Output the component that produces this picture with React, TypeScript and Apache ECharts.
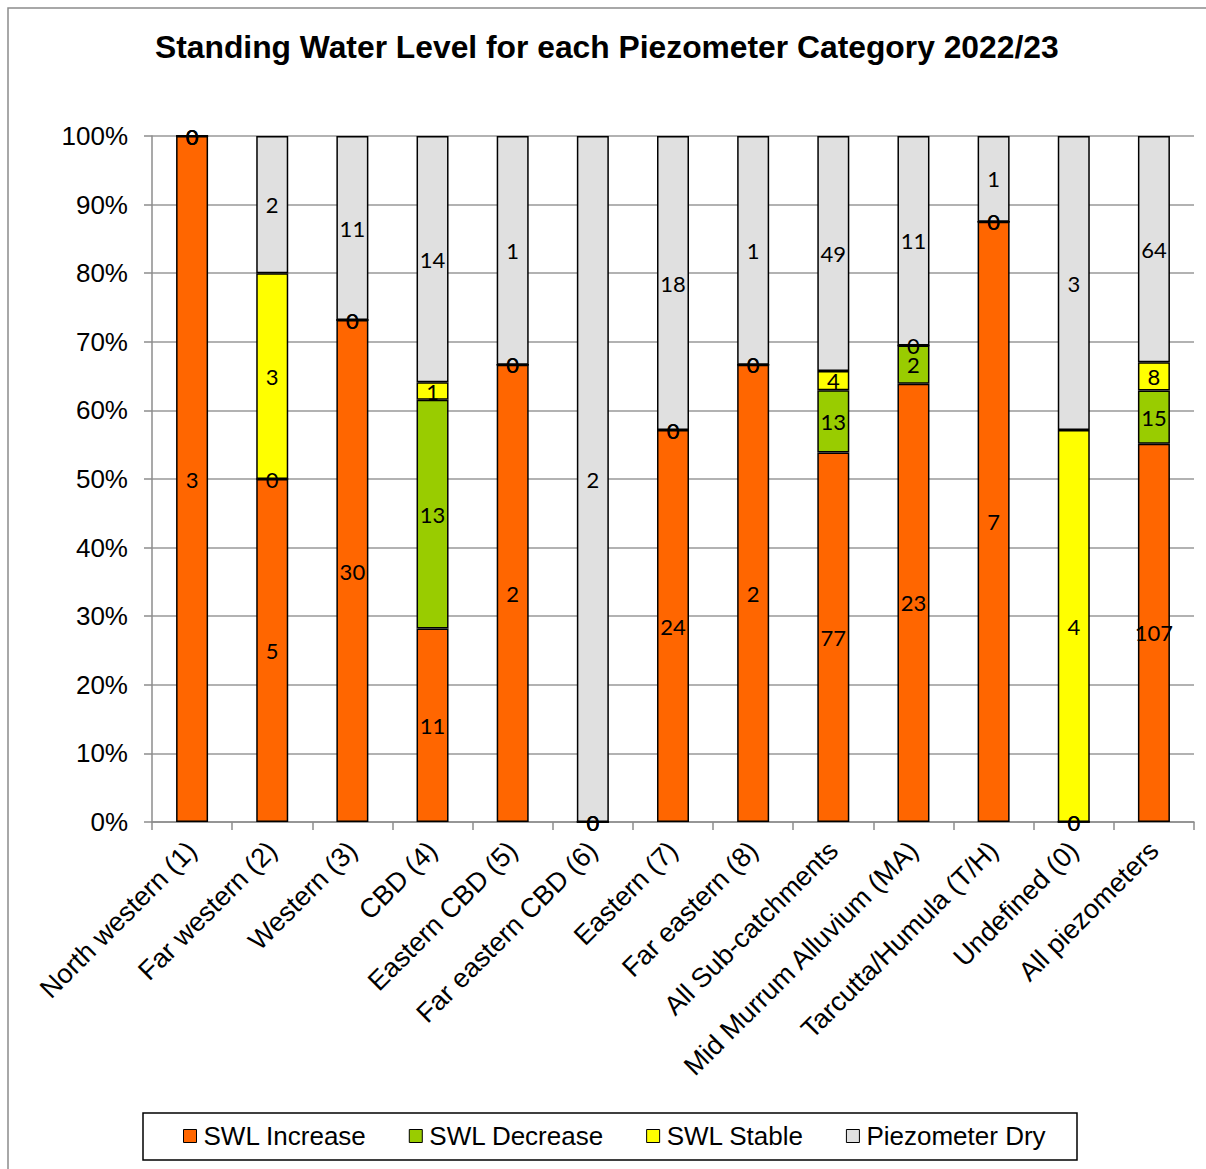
import React, { useEffect, useRef } from "react";
import * as echarts from "echarts";

const categories = [
  "North western (1)",
  "Far western (2)",
  "Western (3)",
  "CBD (4)",
  "Eastern CBD (5)",
  "Far eastern CBD (6)",
  "Eastern (7)",
  "Far eastern (8)",
  "All Sub-catchments",
  "Mid Murrum Alluvium (MA)",
  "Tarcutta/Humula (T/H)",
  "Undefined (0)",
  "All piezometers",
];
const swlIncrease = [3, 5, 30, 11, 2, 0, 24, 2, 77, 23, 7, 0, 107];
const swlDecrease = [0, 0, 0, 13, 0, 0, 0, 0, 13, 2, 0, 0, 15];
const swlStable = [0, 3, 0, 1, 0, 0, 0, 0, 4, 0, 0, 4, 8];
const piezometerDry = [0, 2, 11, 14, 1, 2, 18, 1, 49, 11, 1, 3, 64];
const yTicks = [0, 0.1, 0.2, 0.3, 0.4, 0.5, 0.6, 0.7, 0.8, 0.9, 1];

const seriesDefs = [
  { name: "SWL Increase", counts: swlIncrease, color: "#FF6600" },
  { name: "SWL Decrease", counts: swlDecrease, color: "#99CC00" },
  { name: "SWL Stable", counts: swlStable, color: "#FFFF00" },
  { name: "Piezometer Dry", counts: piezometerDry, color: "#E0E0E0" },
];

export default function App() {
  const ref = useRef<HTMLDivElement>(null);
  useEffect(() => {
    if (!ref.current) return;
    const chart = echarts.init(ref.current, undefined, { renderer: "svg" });
    const totals = categories.map((_, i) =>
      seriesDefs.reduce((s, d) => s + d.counts[i], 0)
    );
    const font = "'Liberation Sans', Arial, sans-serif";
    chart.setOption({
      animation: false,
      backgroundColor: "#ffffff",
      title: {
        text: "Standing Water Level for each Piezometer Category 2022/23",
        left: 155,
        top: 31,
        padding: 0,
        textStyle: {
          fontFamily: font,
          fontWeight: "bold",
          fontSize: 31.8,
          color: "#000",
        },
      },
      graphic: [
        {
          type: "rect",
          shape: { x: 8, y: 8, width: 1220, height: 1200 },
          style: { fill: "none", stroke: "#8c8c8c", lineWidth: 1.5 },
          silent: true,
        },
        {
          type: "rect",
          shape: { x: 143, y: 1113, width: 934, height: 47 },
          style: { fill: "none", stroke: "#000", lineWidth: 1.5 },
          silent: true,
        },
      ],
      legend: {
        left: 183,
        top: 1123,
        padding: 0,
        itemWidth: 13,
        itemHeight: 13,
        itemGap: 42,
        icon: "rect",
        itemStyle: { borderColor: "#000", borderWidth: 1 },
        textStyle: {
          fontFamily: font,
          fontSize: 26,
          color: "#000",
          padding: [0, 0, 0, 2],
        },
        data: seriesDefs.map((d) => d.name),
      },
      grid: { left: 152, right: 12, top: 136, bottom: 347, containLabel: false },
      xAxis: {
        type: "category",
        data: categories,
        axisLine: { lineStyle: { color: "#8c8c8c", width: 1.5 } },
        axisTick: { show: true, length: 8, lineStyle: { color: "#8c8c8c", width: 1.5 } },
        axisLabel: {
          rotate: 45,
          margin: 24,
          interval: 0,
          fontFamily: font,
          fontSize: 27,
          color: "#000",
        },
      },
      yAxis: {
        type: "value",
        min: 0,
        max: 1,
        interval: 0.1,
        axisLine: { show: true, lineStyle: { color: "#8c8c8c", width: 1.5 } },
        axisTick: { show: true, length: 8, lineStyle: { color: "#8c8c8c", width: 1.5 } },
        splitLine: { lineStyle: { color: "#999999", width: 1.5 } },
        axisLabel: {
          margin: 24,
          fontFamily: font,
          fontSize: 26,
          color: "#000",
          formatter: (v: number) => {
            const t = yTicks.find((x) => Math.abs(x - v) < 1e-6);
            return Math.round((t ?? v) * 100) + "%";
          },
        },
      },
      series: seriesDefs.map((d) => ({
        name: d.name,
        type: "bar",
        stack: "total",
        barWidth: 32,
        itemStyle: { color: d.color, borderColor: "#000", borderWidth: 1.5 },
        label: {
          show: true,
          position: "inside",
          fontFamily: "Lato, 'Open Sans', sans-serif",
          fontSize: 22,
          color: "#000",
          formatter: (p: any) => String(d.counts[p.dataIndex]),
        },
        data: d.counts.map((c, i) => (totals[i] ? c / totals[i] : 0)),
      })),
    });
    return () => chart.dispose();
  }, []);
  return (
    <div
      ref={ref}
      style={{ position: "absolute", left: 0, top: 0, width: 1206, height: 1169 }}
    />
  );
}
